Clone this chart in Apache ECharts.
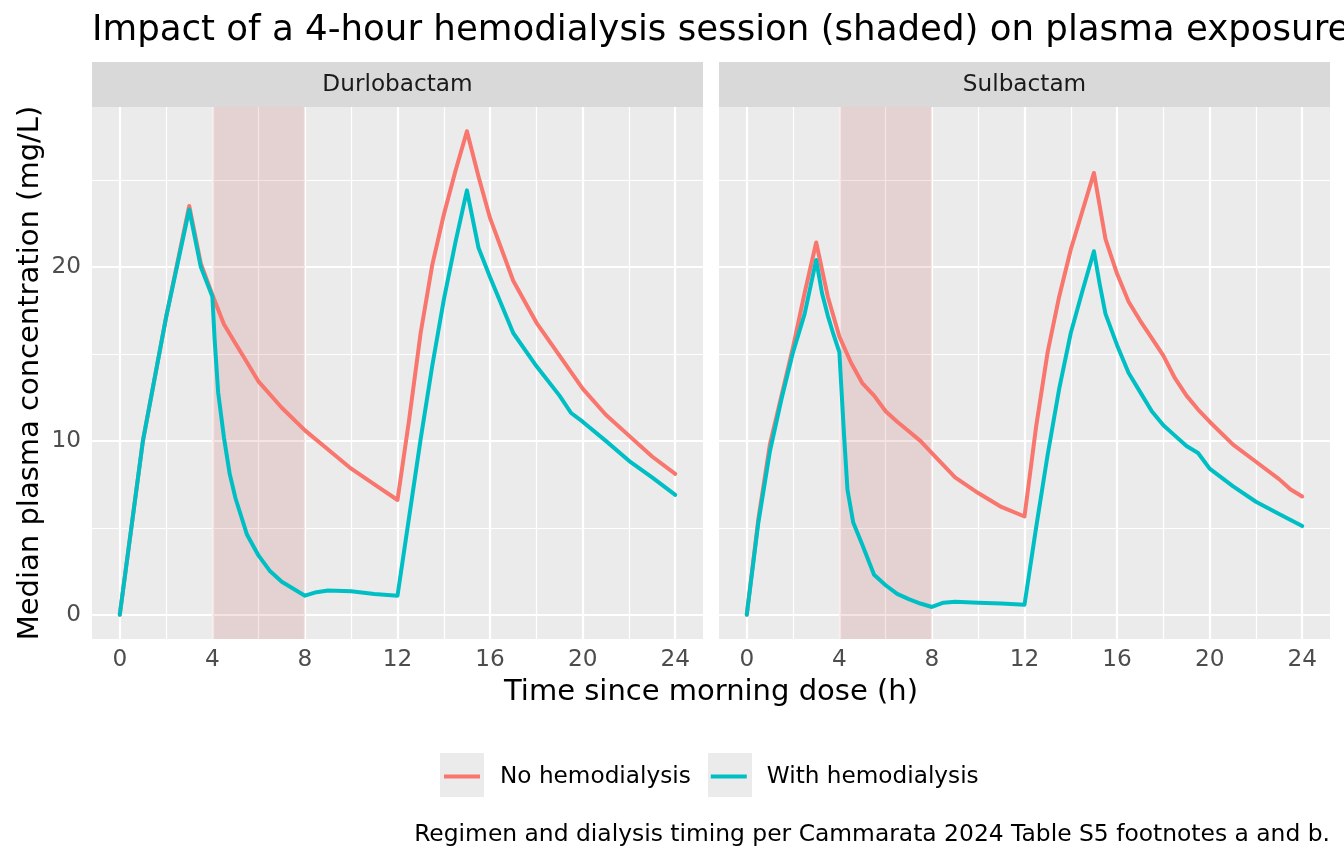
<!DOCTYPE html>
<html>
<head>
<meta charset="utf-8">
<script src="https://cdn.jsdelivr.net/npm/echarts@6/dist/echarts.min.js"></script>
<style>
  html, body { margin: 0; background: #fff; }
  #main { width: 1344px; height: 864px; }
</style>
</head>
<body>
<div id="main"></div>
<script>
// panels (facets)
var drugs = ['Durlobactam', 'Sulbactam'];
var seriesNames = ['No hemodialysis', 'With hemodialysis'];

// Durlobactam, no hemodialysis
var durNoTime = [0, 1, 2, 3, 3.5, 4, 4.5, 5, 5.5, 6, 7, 8, 9, 10, 11, 12, 12.5, 13, 13.5, 14, 14.5, 15, 15.5, 16, 17, 18, 19, 20, 21, 22, 23, 24];
var durNo     = [0, 10, 17.1, 23.5, 20.2, 18.4, 16.7, 15.6, 14.5, 13.4, 11.9, 10.6, 9.5, 8.4, 7.5, 6.6, 11.2, 16.2, 20.1, 23.0, 25.5, 27.8, 25.2, 22.8, 19.2, 16.8, 14.9, 13.0, 11.5, 10.3, 9.1, 8.1];

// Durlobactam, with hemodialysis (session 4-8 h)
var durWithTime = [0, 1, 2, 3, 3.5, 4, 4.1, 4.25, 4.5, 4.75, 5, 5.5, 6, 6.5, 7, 7.5, 8, 8.5, 9, 10, 11, 12, 12.5, 13, 13.5, 14, 14.5, 15, 15.5, 16, 17, 18, 19, 19.5, 20, 21, 22, 23, 24];
var durWith     = [0, 10, 17.1, 23.3, 20.0, 18.3, 15.8, 12.8, 10.2, 8.1, 6.7, 4.6, 3.4, 2.5, 1.9, 1.5, 1.1, 1.3, 1.4, 1.35, 1.2, 1.1, 5.6, 10.1, 14.3, 18.1, 21.4, 24.4, 21.1, 19.4, 16.2, 14.3, 12.6, 11.6, 11.1, 10.0, 8.85, 7.9, 6.9];

// Sulbactam, no hemodialysis
var sulNoTime = [0, 0.5, 1, 1.5, 2, 2.5, 3, 3.5, 4, 4.5, 5, 5.5, 6, 6.5, 7, 7.5, 8, 9, 10, 11, 12, 12.5, 13, 13.5, 14, 14.5, 15, 15.25, 15.5, 16, 16.5, 17, 17.5, 18, 18.5, 19, 19.5, 20, 21, 22, 23, 23.5, 24];
var sulNo     = [0, 5.5, 9.8, 12.6, 15.4, 18.5, 21.4, 18.3, 16.0, 14.5, 13.3, 12.6, 11.7, 11.1, 10.55, 10.0, 9.3, 7.9, 7.0, 6.2, 5.65, 10.8, 15.1, 18.3, 21.0, 23.2, 25.4, 23.5, 21.6, 19.6, 18.0, 16.9, 15.9, 14.9, 13.6, 12.6, 11.8, 11.1, 9.8, 8.8, 7.8, 7.2, 6.8];

// Sulbactam, with hemodialysis
var sulWithTime = [0, 0.5, 1, 1.5, 2, 2.5, 3, 3.25, 3.5, 3.75, 4, 4.2, 4.35, 4.6, 5, 5.5, 6, 6.5, 7, 7.5, 8, 8.5, 9, 10, 11, 12, 12.5, 13, 13.5, 14, 14.5, 15, 15.25, 15.5, 16, 16.5, 17, 17.5, 18, 18.5, 19, 19.5, 20, 21, 22, 23, 24];
var sulWith     = [0, 5.3, 9.4, 12.4, 15.1, 17.3, 20.4, 18.5, 17.2, 16.1, 15.1, 10.4, 7.2, 5.3, 4.0, 2.3, 1.7, 1.2, 0.9, 0.65, 0.45, 0.7, 0.75, 0.7, 0.65, 0.58, 5.0, 9.2, 13.0, 16.2, 18.6, 20.9, 19.0, 17.3, 15.5, 13.9, 12.8, 11.7, 10.9, 10.3, 9.7, 9.3, 8.4, 7.4, 6.5, 5.8, 5.1];

// dialysis session window (h)
var dialysisWindow = [4, 8];

// axis ticks
var xTicks = [0, 4, 8, 12, 16, 20, 24];
var xMinor = [2, 6, 10, 14, 18, 22];
var yTicks = [0, 10, 20];
var yMinor = [5, 15, 25];

var colors = ['#F8766D', '#00BFC4'];
var FONT = 'DejaVu Sans';
var SMALL = 23.2, MID = 29, BIG = 35.6;
var PANEL_TOP = 107, PANEL_H = 532, PANEL_W = 611;
var panelLeft = [92, 719];

function pairs(t, v) {
  return t.map(function (x, i) { return [x, v[i]]; });
}

var grids = panelLeft.map(function (l) {
  return { left: l, top: PANEL_TOP, width: PANEL_W, height: PANEL_H, show: true,
           backgroundColor: '#EBEBEB', borderWidth: 0, z: 0 };
});

var xAxes = [0, 1].map(function (i) {
  return {
    type: 'value', gridIndex: i, min: -1.2, max: 25.2,
    axisLine: { show: false },
    splitLine: { show: false },
    axisTick: { show: true, customValues: xTicks, length: 5, lineStyle: { color: '#333333', width: 2 } },
    axisLabel: { customValues: xTicks, color: '#4D4D4D', fontSize: SMALL, fontFamily: FONT, margin: 9 }
  };
});

var yAxes = [0, 1].map(function (i) {
  return {
    type: 'value', gridIndex: i, min: -1.39, max: 29.19,
    name: i === 0 ? 'Median plasma concentration (mg/L)' : '',
    nameLocation: 'middle', nameRotate: 90, nameGap: 47,
    nameTextStyle: { color: '#000', fontSize: MID, fontFamily: FONT },
    axisLine: { show: false },
    splitLine: { show: false },
    axisTick: { show: i === 0, customValues: yTicks, length: 5, lineStyle: { color: '#333333', width: 2 } },
    axisLabel: { show: i === 0, customValues: yTicks, color: '#4D4D4D', fontSize: SMALL, fontFamily: FONT, margin: 11 }
  };
});

function gridLines() {
  var d = [];
  xTicks.forEach(function (v) { d.push({ xAxis: v, lineStyle: { width: 2.2 } }); });
  xMinor.forEach(function (v) { d.push({ xAxis: v, lineStyle: { width: 1.2 } }); });
  yTicks.forEach(function (v) { d.push({ yAxis: v, lineStyle: { width: 2.2 } }); });
  yMinor.forEach(function (v) { d.push({ yAxis: v, lineStyle: { width: 1.2 } }); });
  return d;
}

var series = [];
[0, 1].forEach(function (i) {
  series.push({
    type: 'line', xAxisIndex: i, yAxisIndex: i, data: [], silent: true, z: 1,
    markLine: { silent: true, z: 1, symbol: ['none', 'none'], label: { show: false },
                lineStyle: { color: '#FFFFFF', type: 'solid' }, data: gridLines() }
  });
  series.push({
    type: 'line', xAxisIndex: i, yAxisIndex: i, data: [], silent: true, z: 2,
    markArea: { silent: true, z: 2, itemStyle: { color: 'rgba(178,34,34,0.12)' },
                data: [[{ xAxis: dialysisWindow[0] }, { xAxis: dialysisWindow[1] }]] }
  });
});

var panelData = [
  [pairs(durNoTime, durNo), pairs(durWithTime, durWith)],
  [pairs(sulNoTime, sulNo), pairs(sulWithTime, sulWith)]
];
[0, 1].forEach(function (i) {
  [0, 1].forEach(function (k) {
    series.push({
      name: seriesNames[k], type: 'line', xAxisIndex: i, yAxisIndex: i, z: 3,
      showSymbol: false, symbol: 'none', color: colors[k],
      lineStyle: { width: 4, color: colors[k], join: 'round', cap: 'round' },
      data: panelData[i][k]
    });
  });
});

function txt(x, y, s, size, fill, align) {
  return { type: 'text', z: 1, x: x, y: y,
           style: { text: s, fill: fill, font: size + 'px "DejaVu Sans"',
                    align: align, verticalAlign: 'middle', textAlign: align, textVerticalAlign: 'middle' } };
}

var graphics = [];
[0, 1].forEach(function (i) {
  graphics.push({ type: 'rect', z: 0, shape: { x: panelLeft[i], y: 62, width: PANEL_W, height: 45 },
                  style: { fill: '#D9D9D9' } });
  graphics.push(txt(panelLeft[i] + PANEL_W / 2, 85, drugs[i], SMALL, '#1A1A1A', 'center'));
});
graphics.push(txt(92, 31, 'Impact of a 4-hour hemodialysis session (shaded) on plasma exposure', BIG, '#000', 'left'));
graphics.push(txt(711, 692, 'Time since morning dose (h)', MID, '#000', 'center'));
graphics.push(txt(1330, 835, 'Regimen and dialysis timing per Cammarata 2024 Table S5 footnotes a and b.', 23.4, '#000', 'right'));
// legend key backgrounds
[440, 708].forEach(function (x) {
  graphics.push({ type: 'rect', z: 0, shape: { x: x, y: 753, width: 44, height: 44 }, style: { fill: '#EBEBEB' } });
});

var myChart = echarts.init(document.getElementById('main'), null, { renderer: 'canvas' });
var option = {
  animation: false,
  backgroundColor: '#FFFFFF',
  textStyle: { fontFamily: FONT },
  grid: grids,
  xAxis: xAxes,
  yAxis: yAxes,
  legend: {
    data: seriesNames, left: 444, top: 765, z: 5, padding: 0,
    icon: 'rect', itemWidth: 36, itemHeight: 4, itemGap: 20,
    textStyle: { fontSize: SMALL, color: '#000', fontFamily: FONT, padding: [0, 0, 0, 15] }
  },
  graphic: graphics,
  series: series
};
myChart.setOption(option);
</script>
</body>
</html>
